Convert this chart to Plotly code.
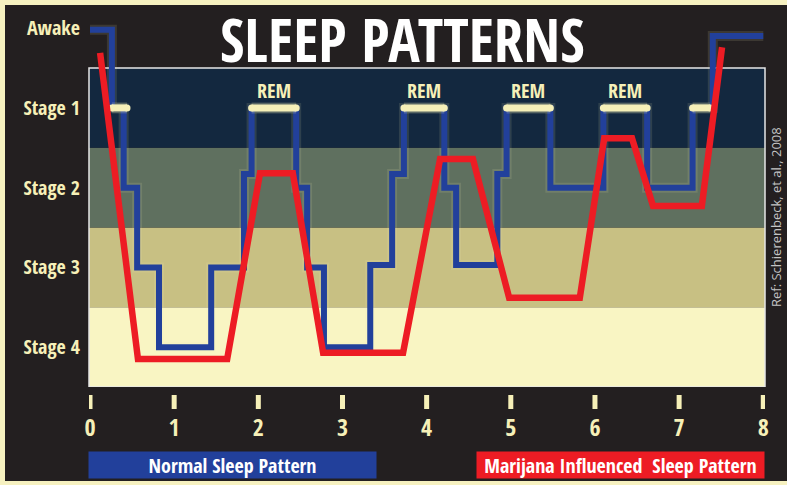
import plotly.graph_objects as go

# ---------------- data ----------------
stage_values = [1, 2, 3, 4, 5]
stage_labels = ["Stage 4", "Stage 3", "Stage 2", "Stage 1", "Awake"]
hour_ticks = [0, 1, 2, 3, 4, 5, 6, 7, 8]

# Normal sleep pattern (step line, hv)
normal_hours = [0.00, 0.26, 0.40, 0.56, 0.82, 1.44, 1.83, 1.92, 2.45, 2.58, 2.78,
                3.33, 3.59, 3.73, 4.21, 4.35, 4.84, 4.95, 5.47, 6.10, 6.62, 7.16,
                7.40, 8.00]
normal_stage = [4.98, 4.0, 3.0, 2.0, 1.0, 2.0, 3.17, 4.0, 3.0, 2.0, 1.0,
                2.03, 3.17, 4.0, 3.0, 2.03, 3.17, 4.0, 3.0, 4.0, 3.0, 4.0,
                4.90, 4.90]

# REM periods (on Stage 1)
rem_start = [0.26, 1.92, 3.73, 4.95, 6.10, 7.16]
rem_end = [0.44, 2.45, 4.21, 5.47, 6.62, 7.37]
rem_labelled = [False, True, True, True, True, False]
REM_LEVEL = 4.0

# Marijuana influenced sleep pattern (polyline)
mj_hours = [0.12, 0.57, 1.63, 2.02, 2.41, 2.77, 3.72, 4.16, 4.55, 4.98, 5.82,
            6.11, 6.44, 6.69, 7.27, 7.51]
mj_stage = [4.69, 0.85, 0.85, 3.18, 3.18, 0.93, 0.93, 3.36, 3.36, 1.62, 1.62,
            3.62, 3.62, 2.77, 2.77, 4.76]

series_names = ["Normal Sleep Pattern", "Marijana Influenced  Sleep Pattern"]
title_text = "SLEEP PATTERNS"
ref_text = "Ref: Schierenbeck, et al., 2008"

# ---------------- style ----------------
DARK = "#231f20"
CREAM = "#f6f0b8"
BORDER = "#f6f1c0"
BLUE = "#22409b"
RED = "#ed1c24"
BAND_COLORS = {1: "#f9f5c3", 2: "#c8c083", 3: "#5f705f", 4: "#13283f"}
FONT = "Open Sans Condensed, Roboto Condensed, DejaVu Sans Condensed, sans-serif"
FONT_REG = "Open Sans, DejaVu Sans, sans-serif"

W, H = 787, 485
ML, MR, MT, MB = 89, 22, 8, 98
PW, PH = W - ML - MR, H - MT - MB
PX_PER_HOUR = 84.16
PX_PER_STAGE = 79.75
x_range = [-1 / PX_PER_HOUR, (PW - 1) / PX_PER_HOUR]
y_range = [0.5, 0.5 + PH / PX_PER_STAGE]


def py(px_from_top):
    """pixel y (from top of figure) -> paper y"""
    return (H - MB - px_from_top) / PH


def px(px_from_left):
    return (px_from_left - ML) / PW


fig = go.Figure()

# glow under the normal pattern
fig.add_trace(go.Scatter(x=normal_hours, y=normal_stage, mode="lines",
                         line=dict(color="rgba(246,240,184,0.12)", width=10, shape="hv"),
                         hoverinfo="skip", showlegend=False))
fig.add_trace(go.Scatter(x=normal_hours, y=normal_stage, mode="lines",
                         name=series_names[0],
                         line=dict(color=BLUE, width=6, shape="hv"),
                         showlegend=False))

# REM segments
rx, ry = [], []
for s, e in zip(rem_start, rem_end):
    rx += [s, e, None]
    ry += [REM_LEVEL, REM_LEVEL, None]
fig.add_trace(go.Scatter(x=rx, y=ry, mode="lines", hoverinfo="skip",
                         line=dict(color="rgba(246,240,184,0.22)", width=11),
                         showlegend=False))
fig.add_trace(go.Scatter(x=rx, y=ry, mode="lines+markers", hoverinfo="skip",
                         line=dict(color=CREAM, width=7),
                         marker=dict(color=CREAM, size=7),
                         showlegend=False))

# marijuana pattern
fig.add_trace(go.Scatter(x=mj_hours, y=mj_stage, mode="lines",
                         name=series_names[1],
                         line=dict(color=RED, width=6.5),
                         showlegend=False))

shapes = []
# cream frame + dark interior
shapes.append(dict(type="rect", xref="paper", yref="paper", layer="below",
                   x0=px(5), x1=px(W + 5), y0=py(H - 4), y1=py(5),
                   fillcolor=DARK, line=dict(width=0)))
# stage bands
for lvl, col in BAND_COLORS.items():
    shapes.append(dict(type="rect", xref="paper", yref="y", layer="below",
                       x0=0, x1=1, y0=lvl - 0.5, y1=lvl + 0.5,
                       fillcolor=col, line=dict(width=0)))
shapes.append(dict(type="rect", xref="paper", yref="y", layer="below",
                   x0=0, x1=1, y0=0.5, y1=4.5,
                   fillcolor="rgba(0,0,0,0)", line=dict(color="#e6e6e6", width=1.5)))
# x tick marks
for t in hour_ticks:
    shapes.append(dict(type="line", xref="x", yref="paper",
                       x0=t, x1=t, y0=py(409), y1=py(395),
                       line=dict(color=CREAM, width=5)))

annotations = []
annotations.append(dict(text=title_text, xref="paper", yref="paper",
                        x=px(402), y=py(39), xanchor="center", yanchor="middle",
                        showarrow=False,
                        font=dict(family=FONT, size=59, color="#ffffff", weight="bold")))
for s, e, lab in zip(rem_start, rem_end, rem_labelled):
    if lab:
        annotations.append(dict(text="REM", x=(s + e) / 2, y=REM_LEVEL, xref="x", yref="y",
                                yshift=17, showarrow=False, yanchor="middle",
                                font=dict(family=FONT, size=20, color=CREAM, weight="bold")))
annotations.append(dict(text=ref_text, xref="paper", yref="paper",
                        x=px(776), y=py(217), textangle=-90, showarrow=False,
                        xanchor="center", yanchor="middle",
                        font=dict(family=FONT_REG, size=13, color="#c4c4c4")))
# legend boxes
annotations.append(dict(text="<b>" + series_names[0] + "</b>", xref="paper", yref="paper",
                        x=px(232.5), y=py(465), xanchor="center", yanchor="middle",
                        width=287, height=26, borderpad=0, bgcolor=BLUE, showarrow=False,
                        font=dict(family=FONT, size=20, color="#ffffff")))
annotations.append(dict(text="<b>" + series_names[1] + "</b>", xref="paper", yref="paper",
                        x=px(620.5), y=py(465), xanchor="center", yanchor="middle",
                        width=287, height=26, borderpad=0, bgcolor=RED, showarrow=False,
                        font=dict(family=FONT, size=20, color="#ffffff")))

fig.update_layout(
    width=W, height=H,
    margin=dict(l=ML, r=MR, t=MT, b=MB, pad=0, autoexpand=False),
    paper_bgcolor=BORDER,
    plot_bgcolor="rgba(0,0,0,0)",
    shapes=shapes,
    annotations=annotations,
    showlegend=False,
    xaxis=dict(range=x_range, tickvals=hour_ticks, ticktext=[str(t) for t in hour_ticks],
               showgrid=False, zeroline=False, showline=False, ticks="",
               ticklabelstandoff=24, automargin=False,
               tickfont=dict(family=FONT, size=24, color=CREAM, weight="bold"),
               fixedrange=True),
    yaxis=dict(range=y_range, tickvals=stage_values, ticktext=stage_labels,
               showgrid=False, zeroline=False, showline=False, ticks="",
               ticklabelstandoff=8, automargin=False,
               tickfont=dict(family=FONT, size=20, color=CREAM, weight="bold"),
               fixedrange=True),
)

fig.write_html("out.html", config={"displayModeBar": False},
               post_script="document.body.style.margin='0px';")
